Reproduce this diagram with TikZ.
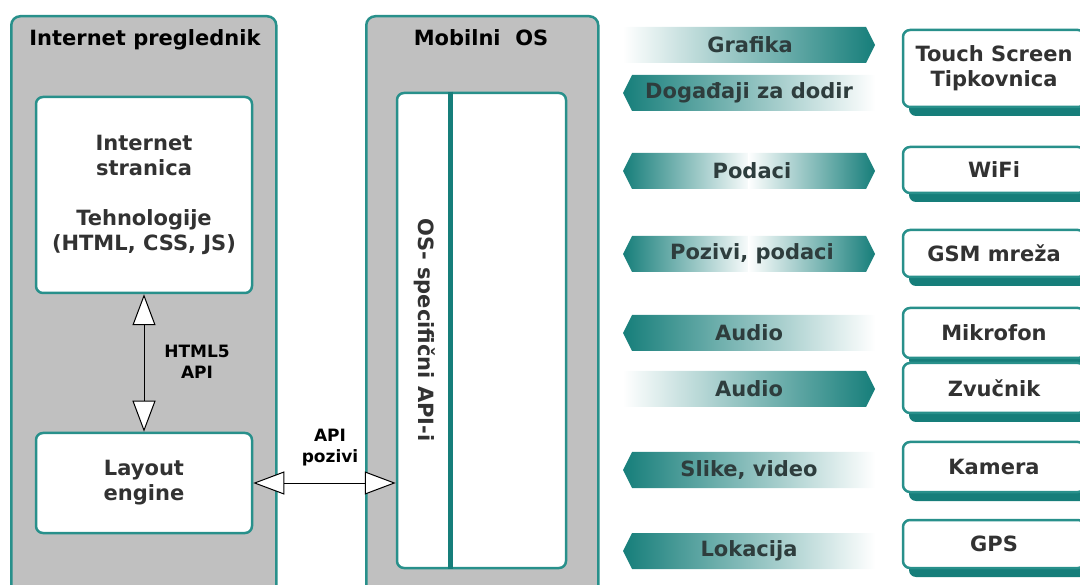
\documentclass[tikz,border=0pt]{standalone}
\usepackage{fontspec}
\setmainfont{DejaVu Sans}
\usetikzlibrary{arrows.meta,shadows}
\definecolor{osteal}{RGB}{22,126,122}
\definecolor{boxteal}{RGB}{40,144,139}
\definecolor{panelgray}{RGB}{192,192,192}
\definecolor{labelgray}{RGB}{50,50,50}
\newcommand\boxfont{\fontsize{21}{25}\selectfont\bfseries}
\newcommand\notefont{\fontsize{17}{21}\selectfont\bfseries}
\tikzset{
  panelbox/.style={draw=boxteal, fill=panelgray, line width=2.5pt, rounded corners=9pt},
  innerbox/.style={draw=boxteal, fill=white, line width=2.5pt, rounded corners=7pt,
    text=labelgray, align=center, font=\boxfont},
  devbox/.style={innerbox, minimum width=182pt,
    drop shadow={fill=osteal, opacity=1, shadow xshift=6pt, shadow yshift=-9pt}},
  titletext/.style={font=\boxfont, text=black},
  bannertext/.style={font=\boxfont, text=labelgray!85!osteal},
  notetext/.style={font=\notefont, align=center},
  apitip/.tip={Triangle[fill=white, length=31pt, width=23pt]},
  apiedge/.style={line width=1pt, draw=black, apitip-apitip}
}
% banner pointing left: y, x left, x right
\newcommand\shadeleft[3]{%
  \shade[left color=osteal, right color=white]
    (#2,#1) -- (#2+9,#1-18) -- (#3,#1-18) -- (#3,#1+18) -- (#2+9,#1+18) -- cycle;}
% banner pointing right: y, x left, x right
\newcommand\shaderight[3]{%
  \shade[left color=white, right color=osteal]
    (#2,#1-18) -- (#3-9,#1-18) -- (#3,#1) -- (#3-9,#1+18) -- (#2,#1+18) -- cycle;}

\begin{document}
\begin{tikzpicture}[x=1pt, y=-1pt]
  \useasboundingbox (0,0) rectangle (1080,585);
  \clip (0,0) rectangle (1080,585);
  % ---------------------
  \node[panelbox, anchor=north west, minimum width=265pt, minimum height=620pt] (browser) at (10,15) {};
  \node[titletext] (browsertitle) at (145,40) {Internet preglednik};
  \node[panelbox, anchor=north west, minimum width=232pt, minimum height=620pt] (mobile) at (365,15) {};
  \node[titletext] (mobiletitle) at (481,38) {Mobilni~~OS};
  % ---------------------
  \node[innerbox, minimum width=216pt, minimum height=196pt] (page) at (144,195)
    {Internet\\stranica\\[25pt]Tehnologije\\(HTML, CSS, JS)};
  \node[innerbox, minimum width=216pt, minimum height=100pt] (layout) at (144,483) {Layout\\engine};
  \node[innerbox, minimum width=169pt, minimum height=475pt] (osapi) at (481.5,330.5) {};
  \draw[osteal, line width=5pt] ([xshift=55pt]osapi.north west) -- ([xshift=55pt]osapi.south west);
  \node[titletext, rotate=-90, text=labelgray] (apitext) at (425,330) {OS- specifični API-i};
  % ---------------------
  \draw[apiedge] (page) -- (layout);
  \draw[apiedge] (layout.east) -- (layout.east -| osapi.west);
  \node[notetext] (html5) at (197,362) {HTML5\\API};
  \node[notetext] (apicalls) at (330,448) {API\\pozivi};
  % ---------------------
  \shaderight{45}{623}{875}
  \node[bannertext] (grafika) at (750,45) {Grafika};
  \shadeleft{93}{623}{875}
  \node[bannertext] (dodir) at (749,93) {Događaji za dodir};
  \shadeleft{171}{623}{752}
  \shaderight{171}{748}{875}
  \node[bannertext] (podaci) at (752,171) {Podaci};
  \shadeleft{254}{623}{752}
  \shaderight{254}{748}{875}
  \node[bannertext] (pozivi) at (752,254) {Pozivi, podaci};
  \shadeleft{333}{623}{875}
  \node[bannertext] (audioin) at (749,333) {Audio};
  \shaderight{389}{623}{875}
  \node[bannertext] (audioout) at (749,389) {Audio};
  \shadeleft{470}{623}{875}
  \node[bannertext] (slike) at (749,470) {Slike, video};
  \shadeleft{551}{623}{875}
  \node[bannertext] (lokacija) at (749,551) {Lokacija};
  % ---------------------
  \node[devbox, minimum height=77pt] (touch) at (994,68.5) {Touch Screen\\Tipkovnica};
  \node[devbox, minimum height=46pt] (wifi) at (994,170) {WiFi};
  \node[devbox, minimum height=47pt] (gsm) at (994,253.5) {GSM mreža};
  \node[devbox, minimum height=50pt] (mikrofon) at (994,333) {Mikrofon};
  \node[devbox, minimum height=50pt] (zvucnik) at (994,388) {Zvučnik};
  \node[devbox, minimum height=50pt] (kamera) at (994,467) {Kamera};
  \node[devbox, minimum height=48pt] (gps) at (994,544) {GPS};
\end{tikzpicture}
\end{document}
